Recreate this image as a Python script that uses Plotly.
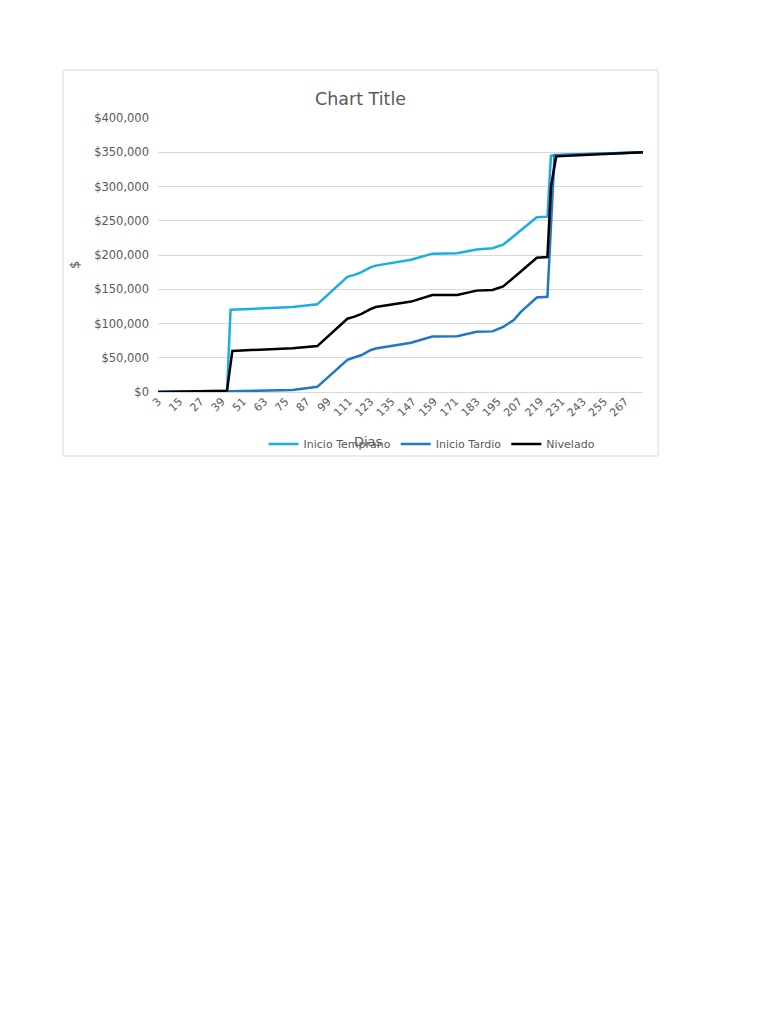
import plotly.graph_objects as go

# Data, days on the category axis
dias_temprano = [3, 42, 44, 79, 93, 110, 114, 118, 123, 126, 146, 158, 172, 183, 192, 198, 208, 217, 223, 225, 229, 277]
inicio_temprano = [0, 2000, 120000, 124000, 128000, 168000, 171000, 175000, 182000, 184500, 193000, 202000,
                   202500, 208000, 210000, 215000, 236000, 255000, 256000, 345000, 345500, 350000]

dias_tardio = [3, 45, 79, 93, 110, 114, 118, 123, 126, 146, 158, 172, 183, 192, 198, 204, 208, 217, 223, 227, 229, 277]
inicio_tardio = [0, 1000, 3000, 7500, 47000, 50500, 54000, 61000, 63500, 72000, 81000, 81500, 88000, 88500,
                 95000, 105000, 117000, 138000, 139000, 346000, 346000, 350000]

dias_nivelado = [3, 42, 45, 79, 93, 110, 114, 118, 123, 126, 146, 158, 172, 183, 192, 198, 208, 217, 223, 225, 228, 277]
nivelado = [0, 2000, 60000, 64000, 67000, 107000, 110000, 114000, 121000, 124000, 132000, 141500, 141500,
            148000, 149000, 154000, 176000, 196000, 197000, 300000, 344000, 350000]

tick_dias = list(range(3, 268, 12))

font = 'DejaVu Sans'
gray = '#595959'

# page has an 8px body margin, so the figure sits at (8, 8)
W, H = 760, 1008
L, T = 150, 110          # plot area left / top inside the figure
PW, PH = 485, 274        # plot area size

fig = go.Figure()
fig.add_trace(go.Scatter(x = dias_temprano, y = inicio_temprano, name = 'Inicio Temprano',
    mode = 'lines', line = dict(color = '#1CADE4', width = 2.5)))
fig.add_trace(go.Scatter(x = dias_tardio, y = inicio_tardio, name = 'Inicio Tardio',
    mode = 'lines', line = dict(color = '#1F78C1', width = 2.5)))
fig.add_trace(go.Scatter(x = dias_nivelado, y = nivelado, name = 'Nivelado',
    mode = 'lines', line = dict(color = '#000000', width = 2.5)))

def px(x):
    return (x - 8 - L) / PW

def py(y):
    return (T + PH - (y - 8)) / PH

fig.update_layout(
    width = W, height = H,
    paper_bgcolor = 'white', plot_bgcolor = 'white',
    margin = dict(l = L, r = W - L - PW, t = T, b = H - T - PH),
    font = dict(family = font, color = gray, size = 11),
    title = dict(text = 'Chart Title', x = (360.5 - 8) / W, xanchor = 'center',
                 y = 1 - (99 - 8) / H, yanchor = 'middle',
                 font = dict(family = font, size = 17.5, color = gray)),
    xaxis = dict(range = [3, 277], tickmode = 'array', tickvals = tick_dias,
                 ticktext = [str(d) for d in tick_dias], tickangle = -45,
                 showgrid = False, zeroline = False, showline = False,
                 ticks = '', tickfont = dict(size = 11, color = gray)),
    yaxis = dict(range = [0, 400000], dtick = 50000, tickprefix = '$', tickformat = ',d',
                 showgrid = True, gridcolor = '#D9D9D9', gridwidth = 1,
                 zeroline = True, zerolinecolor = '#D9D9D9', zerolinewidth = 1,
                 showline = False, ticks = '', ticklabelstandoff = 8,
                 tickfont = dict(size = 11.5, color = gray)),
    showlegend = True,
    legend = dict(orientation = 'h', x = 0.565, xanchor = 'center', y = py(444), yanchor = 'middle',
                  font = dict(size = 11, color = gray), bgcolor = 'rgba(0,0,0,0)',
                  itemwidth = 30, tracegroupgap = 0),
)

# chart border
fig.add_shape(type = 'rect', xref = 'paper', yref = 'paper',
    x0 = px(63), x1 = px(658), y0 = py(456), y1 = py(70),
    line = dict(color = '#D9D9D9', width = 1), fillcolor = 'rgba(0,0,0,0)', layer = 'below')

# axis titles
fig.add_annotation(text = 'Dias', xref = 'paper', yref = 'paper',
    x = px(368), y = py(441), xanchor = 'center', yanchor = 'middle', showarrow = False,
    font = dict(size = 13, color = gray))
fig.add_annotation(text = '$', xref = 'paper', yref = 'paper', textangle = -90,
    x = px(74), y = py(265), xanchor = 'center', yanchor = 'middle', showarrow = False,
    font = dict(size = 13, color = gray))

fig.write_html('out.html')
